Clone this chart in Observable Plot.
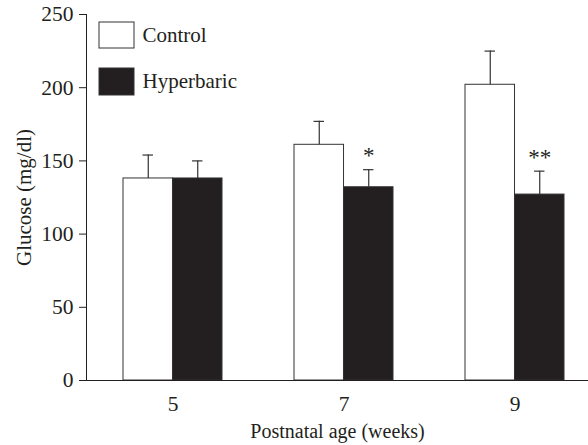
<!DOCTYPE html>
<html>
<head>
<meta charset="utf-8">
<script src="https://cdn.jsdelivr.net/npm/d3@7"></script>
<script src="https://cdn.jsdelivr.net/npm/@observablehq/plot@0.6"></script>
<style>
  html, body { margin: 0; padding: 0; background: #fff; }
  #chart svg { display: block; }
  #chart svg, #chart svg text, #chart svg g {
    font-family: 'Liberation Serif', 'Times New Roman', serif !important;
    font-variant: normal !important;
    font-variant-numeric: normal !important;
  }
  #chart [aria-label="y-axis tick label"], #chart [aria-label="x-axis tick label"] { font-size: 21.5px; }
  #chart [aria-label="y-axis label"] { font-size: 21px; }
</style>
</head>
<body>
<div id="chart"></div>
<script>
// ---- data ----
const weeks = ["5", "7", "9"];
const series = ["Control", "Hyperbaric"];
const controlMean = [138, 161, 202];
const controlErr = [16, 16, 23];
const hyperMean = [138, 132, 127];
const hyperErr = [12, 12, 16];
const hyperSignif = ["", "*", "**"];
const yTicks = [0, 50, 100, 150, 200, 250];

const controlRows = weeks.map((w, i) => ({week: w, series: series[0], mean: controlMean[i], err: controlErr[i], sig: ""}));
const hyperRows = weeks.map((w, i) => ({week: w, series: series[1], mean: hyperMean[i], err: hyperErr[i], sig: hyperSignif[i]}));

// ---- layout (styling only) ----
const W = 588, H = 445;
const mL = 86, mT = 14, mB = 65;
const bw = 98.96;          // bandwidth of each week group
const half = bw / 2;
const capHalf = 5.2;
const ink = "#231f20";

const capInset = (centerOffset) => ({insetLeft: centerOffset - capHalf, insetRight: bw - centerOffset - capHalf});

const chart = Plot.plot({
  width: W,
  height: H,
  marginLeft: mL,
  marginRight: 0,
  marginTop: mT,
  marginBottom: mB,
  style: {fontFamily: "'Liberation Serif', 'Times New Roman', serif", fontSize: "20px", color: ink, background: "white"},
  x: {
    domain: weeks,
    range: [mL, 601],
    paddingInner: 0.423,
    paddingOuter: 0.213,
    tickSize: 0,
    tickPadding: 15,
    label: "Postnatal age (weeks)",
    labelAnchor: "center",
    labelArrow: false,
    labelOffset: 57
  },
  y: {
    domain: [0, 250],
    ticks: yTicks,
    tickSize: 7,
    tickPadding: 6,
    line: true,
    label: "Glucose (mg/dl)",
    labelAnchor: "center",
    labelArrow: false,
    labelOffset: 70
  },
  color: {domain: series, range: ["white", ink]},
  marks: [
    // bars
    Plot.barY(controlRows, {x: "week", y: "mean", fill: "series", stroke: "#333", strokeWidth: 1, insetLeft: 0, insetRight: half}),
    Plot.barY(hyperRows, {x: "week", y: "mean", fill: "series", stroke: "#333", strokeWidth: 1, insetLeft: half, insetRight: 0}),
    // error bars (upper only)
    Plot.ruleX(controlRows, {x: "week", y1: "mean", y2: d => d.mean + d.err, dx: -half / 2, stroke: "#333", strokeWidth: 1.2}),
    Plot.ruleX(hyperRows, {x: "week", y1: "mean", y2: d => d.mean + d.err, dx: half / 2, stroke: "#333", strokeWidth: 1.2}),
    Plot.tickY(controlRows, {x: "week", y: d => d.mean + d.err, stroke: "#333", strokeWidth: 1.2, ...capInset(half / 2)}),
    Plot.tickY(hyperRows, {x: "week", y: d => d.mean + d.err, stroke: "#333", strokeWidth: 1.2, ...capInset(half + half / 2)}),
    // significance marks
    Plot.text(hyperRows, {x: "week", y: d => d.mean + d.err, text: "sig", dx: half / 2, dy: -14, fill: ink, fontSize: 23}),
    // x axis line
    Plot.ruleY([0], {stroke: ink, strokeWidth: 1.2}),
    // legend (inside frame, positioned by insets)
    Plot.rect([series[0]], {fill: d => d, stroke: "#333", strokeWidth: 1, insetLeft: 13, insetRight: W - mL - 48, insetTop: 8, insetBottom: (H - mB - mT) - 34}),
    Plot.rect([series[1]], {fill: d => d, stroke: "#333", strokeWidth: 1, insetLeft: 13, insetRight: W - mL - 48, insetTop: 54, insetBottom: (H - mB - mT) - 81}),
    Plot.text([series[0]], {text: d => d, frameAnchor: "top-left", lineAnchor: "middle", dx: 56, dy: 21, textAnchor: "start", fill: ink, fontSize: 21}),
    Plot.text([series[1]], {text: d => d, frameAnchor: "top-left", lineAnchor: "middle", dx: 56, dy: 67, textAnchor: "start", fill: ink, fontSize: 21})
  ]
});
document.getElementById("chart").appendChild(chart);
</script>
</body>
</html>
